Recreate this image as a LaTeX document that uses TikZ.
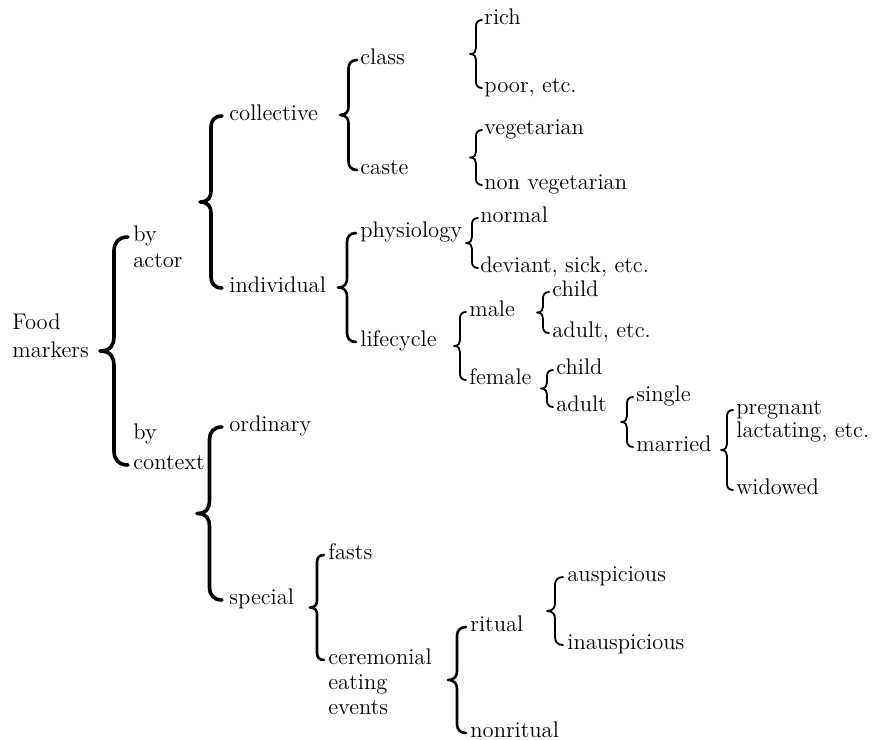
\documentclass[tikz,border=0pt]{standalone}
\usetikzlibrary{calc}

\tikzset{
  lbl/.style={anchor=mid west, inner sep=0pt, font=\fontsize{11.3}{13}\selectfont},
  % curly brace from the lower child to the upper one, bulging left by #1
  brace to/.style={line cap=round, line join=round, to path={
    let \p1=(\tikztostart), \p2=(\tikztotarget),
        \n1={min(0.5*#1,(\y2-\y1)/4)} in
    (\p1) .. controls (\x1-0.35*#1,\y1) and (\x1-0.5*#1,\y1+0.45*\n1) .. (\x1-0.5*#1,\y1+\n1)
    -- (\x1-0.5*#1,0.5*\y1+0.5*\y2-\n1)
    .. controls (\x1-0.5*#1,0.5*\y1+0.5*\y2-0.5*\n1) and (\x1-0.6*#1,0.5*\y1+0.5*\y2) .. (\x1-#1,0.5*\y1+0.5*\y2)
    .. controls (\x1-0.6*#1,0.5*\y1+0.5*\y2) and (\x1-0.5*#1,0.5*\y1+0.5*\y2+0.5*\n1) .. (\x1-0.5*#1,0.5*\y1+0.5*\y2+\n1)
    -- (\x1-0.5*#1,\y2-\n1)
    .. controls (\x1-0.5*#1,\y2-0.45*\n1) and (\x1-0.35*#1,\y2) .. (\p2)
  }},
  thickbr/.style={line width=1.8pt},
  midbr/.style={line width=1.3pt},
  thinbr/.style={line width=0.9pt},
}

\begin{document}
\begin{tikzpicture}[x=0.5pt,y=-0.5pt]
\useasboundingbox (0,0) rectangle (875,740);

% root
\node[lbl] (food) at (12,325) {Food};
\node[lbl] (markers) at (12,353) {markers};

% first split
\node[lbl] (byA) at (133,237) {by};
\node[lbl] (actor) at (133,263) {actor};
\node[lbl] (byC) at (133,435) {by};
\node[lbl] (context) at (133,465) {context};

% by actor
\node[lbl] (collective) at (229,116) {collective};
\node[lbl] (individual) at (229,288) {individual};
\node[lbl] (class) at (360,60) {class};
\node[lbl] (caste) at (360,170) {caste};
\node[lbl] (rich) at (484,20) {rich};
\node[lbl] (poor) at (484,88) {poor, etc.};
\node[lbl] (veg) at (484,130) {vegetarian};
\node[lbl] (nonveg) at (484,185) {non vegetarian};
\node[lbl] (physiology) at (360,233) {physiology};
\node[lbl] (lifecycle) at (360,342) {lifecycle};
\node[lbl] (normal) at (480,218) {normal};
\node[lbl] (deviant) at (480,268) {deviant, sick, etc.};
\node[lbl] (male) at (469,312) {male};
\node[lbl] (female) at (469,380) {female};
\node[lbl] (childM) at (552,292) {child};
\node[lbl] (adultM) at (552,333) {adult, etc.};
\node[lbl] (childF) at (556,370) {child};
\node[lbl] (adultF) at (556,407) {adult};
\node[lbl] (single) at (636,397) {single};
\node[lbl] (married) at (636,447) {married};
\node[lbl] (pregnant) at (736,410) {pregnant};
\node[lbl] (lactating) at (736,433) {lactating, etc.};
\node[lbl] (widowed) at (736,490) {widowed};

% by context
\node[lbl] (ordinary) at (229,427) {ordinary};
\node[lbl] (special) at (229,600) {special};
\node[lbl] (fasts) at (328,555) {fasts};
\node[lbl] (ceremonial) at (328,660) {ceremonial};
\node[lbl] (eating) at (328,685) {eating};
\node[lbl] (events) at (328,710) {events};
\node[lbl] (ritual) at (470,627) {ritual};
\node[lbl] (nonritual) at (470,733) {nonritual};
\node[lbl] (ausp) at (567,577) {auspicious};
\node[lbl] (inausp) at (567,645) {inauspicious};

% braces, lower child to upper child
\draw[thickbr, brace to=14pt] ([xshift=-2.5pt]context.mid west) to ([xshift=-2.5pt]byA.mid west);
\draw[thickbr, brace to=11pt] ([xshift=-3.5pt]individual.mid west) to ([xshift=-3.5pt]collective.mid west);
\draw[thickbr, brace to=12.5pt] ([xshift=-3.5pt]special.mid west) to ([xshift=-3.5pt]ordinary.mid west);

\draw[midbr, brace to=8.5pt] ([xshift=-1.5pt]caste.mid west) to ([xshift=-1.5pt]class.mid west);
\draw[midbr, brace to=9pt] ([xshift=-2pt]lifecycle.mid west) to ([xshift=-2pt]physiology.mid west);
\draw[midbr, brace to=7pt] ([xshift=-2pt]ceremonial.mid west) to ([xshift=-2pt]fasts.mid west);
\draw[midbr, brace to=9pt] ([xshift=-2pt]nonritual.mid west) to ([xshift=-2pt]ritual.mid west);

\draw[thinbr, brace to=6pt] ([xshift=-1pt]poor.mid west) to ([xshift=-1pt]rich.mid west);
\draw[thinbr, brace to=6pt] ([xshift=-1pt]nonveg.mid west) to ([xshift=-1pt]veg.mid west);
\draw[thinbr, brace to=6pt] ([xshift=-1pt]deviant.mid west) to ([xshift=-1pt]normal.mid west);
\draw[thinbr, brace to=6pt] ([xshift=-1.5pt]female.mid west) to ([xshift=-1.5pt]male.mid west);
\draw[thinbr, brace to=6pt] ([xshift=-1.5pt]adultM.mid west) to ([xshift=-1.5pt]childM.mid west);
\draw[thinbr, brace to=6pt] ([xshift=-1.5pt]adultF.mid west) to ([xshift=-1.5pt]childF.mid west);
\draw[thinbr, brace to=6pt] ([xshift=-1.5pt]married.mid west) to ([xshift=-1.5pt]single.mid west);
\draw[thinbr, brace to=6pt] ([xshift=-1.5pt]widowed.mid west) to ([xshift=-1.5pt]pregnant.mid west);
\draw[thinbr, brace to=8pt] ([xshift=-2pt]inausp.mid west) to ([xshift=-2pt]ausp.mid west);
\end{tikzpicture}
\end{document}
